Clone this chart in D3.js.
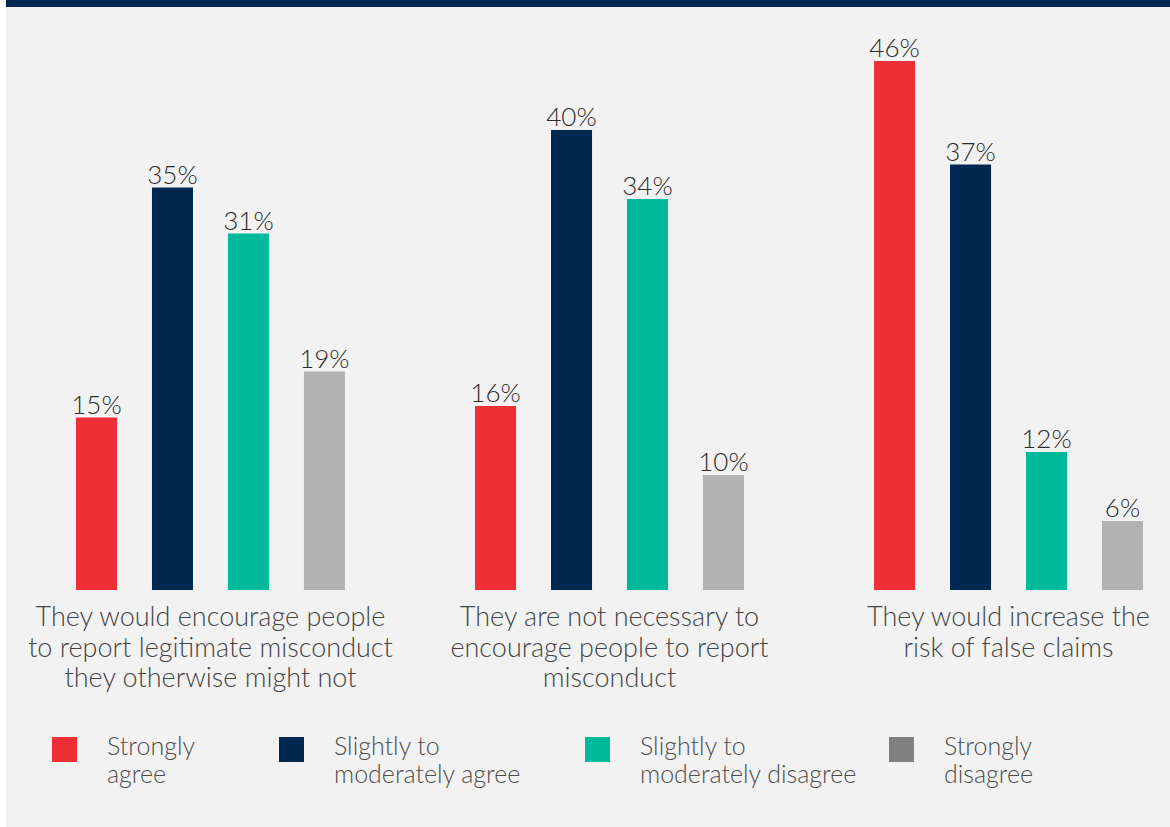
<!DOCTYPE html>
<html lang="en">
<head>
<meta charset="UTF-8">
<title>Views on financial rewards for whistleblowers</title>
<script src="https://d3js.org/d3.v7.min.js"></script>
<style>
  body { margin: 0; background: #fff; }
  svg { display: block; font-family: Lato, "Open Sans", sans-serif; font-weight: 300; }
  .value { fill: #2b2b2b; font-size: 26px; }
  .cat { fill: #444; font-size: 27px; }
  .legend-text { fill: #4d4d4d; font-size: 25px; }
</style>
</head>
<body>
<svg width="1170" height="827"></svg>
<script>
// statements (one group of bars each)
const groups = ["encourage", "notNecessary", "falseClaims"];
const groupLines = [
  ["They would encourage people", "to report legitimate misconduct", "they otherwise might not"],
  ["They are not necessary to", "encourage people to report", "misconduct"],
  ["They would increase the", "risk of false claims"]
];

// answer categories
const series = ["Strongly agree", "Slightly to moderately agree", "Slightly to moderately disagree", "Strongly disagree"];
const legendLines = [
  ["Strongly", "agree"],
  ["Slightly to", "moderately agree"],
  ["Slightly to", "moderately disagree"],
  ["Strongly", "disagree"]
];

// percentages, one array per answer, in group order
const stronglyAgree = [15, 16, 46];
const slightlyAgree = [35, 40, 37];
const slightlyDisagree = [31, 34, 12];
const stronglyDisagree = [19, 10, 6];

const barColors = ["#ee2f36", "#002750", "#00b99b", "#b2b2b2"];
const swatchColors = ["#ee2f36", "#002750", "#00b99b", "#808080"];

const values = [stronglyAgree, slightlyAgree, slightlyDisagree, stronglyDisagree];
const rows = [];
groups.forEach((g, gi) => {
  series.forEach((s, si) => rows.push({group: g, series: s, value: values[si][gi]}));
});

const svg = d3.select("svg");
const W = 1170, H = 827;

// panel background + top band
svg.append("rect").attr("x", 6).attr("y", 0).attr("width", W - 6).attr("height", H).attr("fill", "#f2f2f2");
svg.append("rect").attr("x", 6).attr("y", 0).attr("width", W - 6).attr("height", 7).attr("fill", "#002750");

const x0 = d3.scaleBand().domain(groups).range([76, 1143]).paddingInner(0.326);
const x1 = d3.scaleBand().domain(series).range([0, x0.bandwidth()]).paddingInner(0.46);
const y = d3.scaleLinear().domain([0, 46]).range([590, 61]);
const color = d3.scaleOrdinal().domain(series).range(barColors);

const g = svg.append("g");

g.selectAll(".bar")
  .data(rows)
  .join("rect")
  .attr("class", "bar")
  .attr("x", d => x0(d.group) + x1(d.series))
  .attr("y", d => y(d.value))
  .attr("width", x1.bandwidth())
  .attr("height", d => y(0) - y(d.value))
  .attr("fill", d => color(d.series));

g.selectAll(".value")
  .data(rows)
  .join("text")
  .attr("class", "value")
  .attr("x", d => x0(d.group) + x1(d.series) + x1.bandwidth() / 2)
  .attr("y", d => y(d.value) - 4)
  .attr("text-anchor", "middle")
  .text(d => d.value + "%");

// category labels under each group
const cat = g.selectAll(".cat")
  .data(groups)
  .join("text")
  .attr("class", "cat")
  .attr("text-anchor", "middle")
  .attr("transform", d => `translate(${x0(d) + x0.bandwidth() / 2},626)`);
cat.selectAll("tspan")
  .data((d, i) => groupLines[i])
  .join("tspan")
  .attr("x", 0)
  .attr("y", (d, i) => i * 30.5)
  .text(d => d);

// legend
const legendX = d3.scaleOrdinal().domain(series).range([52, 279, 585, 889]);
const legend = svg.append("g").selectAll("g")
  .data(series)
  .join("g")
  .attr("transform", d => `translate(${legendX(d)},737)`);
legend.append("rect")
  .attr("width", 25)
  .attr("height", 25)
  .attr("fill", (d, i) => swatchColors[i]);
const lt = legend.append("text").attr("class", "legend-text");
lt.selectAll("tspan")
  .data((d, i) => legendLines[i])
  .join("tspan")
  .attr("x", 55)
  .attr("y", (d, i) => 18 + i * 28)
  .text(d => d);
</script>
</body>
</html>
